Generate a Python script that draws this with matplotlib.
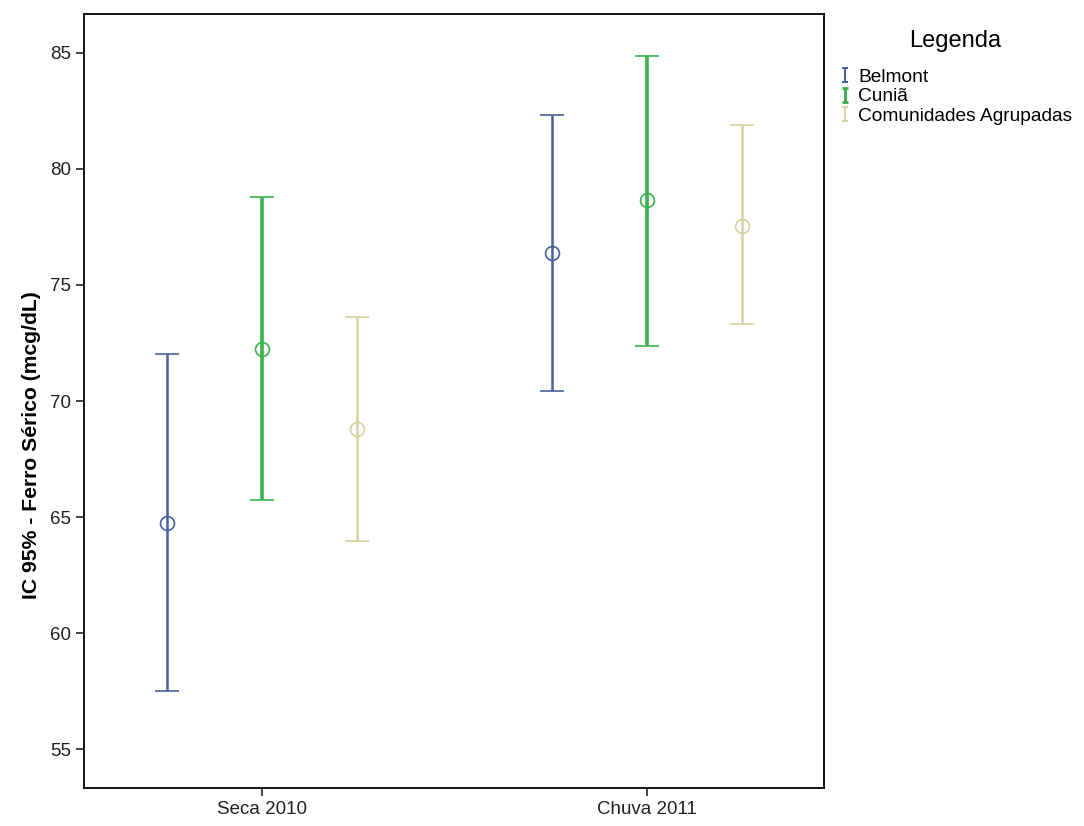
import numpy as np
import matplotlib.pyplot as plt
from matplotlib.path import Path
from matplotlib.lines import Line2D

plt.rcParams['font.family'] = ['Liberation Sans', 'DejaVu Sans']

# dados
periodos = ['Seca 2010', 'Chuva 2011']
grupos = ['Belmont', 'Cuniã', 'Comunidades Agrupadas']
media = [[64.74, 76.38], [72.24, 78.66], [68.79, 77.54]]
ic_sup = [[72.03, 82.33], [78.79, 84.87], [73.62, 81.90]]
ic_inf = [[57.50, 70.43], [65.73, 72.37], [63.97, 73.32]]

cores = ['#4a5f9e', '#3cb24e', '#d6d2a2']
larguras = [1.8, 2.6, 1.8]
desloc = [-0.247, 0.0, 0.247]

fig = plt.figure(figsize=(10.84, 8.26), dpi=100)
ax = fig.add_axes([83.5 / 1084, 38 / 826, 740.5 / 1084, 774 / 826])

x = np.arange(len(periodos))
for i, g in enumerate(grupos):
    m = np.array(media[i])
    err = [m - np.array(ic_inf[i]), np.array(ic_sup[i]) - m]
    ax.errorbar(x + desloc[i], m, yerr=err, fmt='o', mfc='none', mec=cores[i],
                ms=10, mew=1.2, ecolor=cores[i], elinewidth=larguras[i],
                capsize=8.5, capthick=larguras[i], label=g)

ax.set_xlim(-0.464, 1.460)
ax.set_ylim(53.32, 86.68)
ax.set_xticks(x)
ax.set_xticklabels(periodos)
ax.set_yticks([55, 60, 65, 70, 75, 80, 85])
ax.tick_params(direction='out', length=6, width=1.2, labelsize=13.5, colors='#222222', pad=3)
ax.set_ylabel('IC 95% - Ferro Sérico (mcg/dL)', fontsize=15.2, fontweight='bold')
ax.yaxis.set_label_coords(-0.058, 0.443)
for s in ax.spines.values():
    s.set_linewidth(1.3)

# icone "I" da legenda
icone = Path([(-0.5, 1), (0.5, 1), (0, 1), (0, -1), (-0.5, -1), (0.5, -1)],
             [Path.MOVETO, Path.LINETO, Path.MOVETO, Path.LINETO, Path.MOVETO, Path.LINETO])
handles = [Line2D([], [], linestyle='none', marker=icone, ms=10, mew=larguras[i] * 0.8,
                  color=cores[i], mec=cores[i]) for i in range(len(grupos))]

fig.text(955 / 1084, 1 - 41 / 826, 'Legenda', ha='center', va='center', fontsize=17)
fig.legend(handles=handles, labels=grupos, loc='upper left',
           bbox_to_anchor=(823 / 1084, 1 - 51 / 826), frameon=False,
           fontsize=13.8, handlelength=0.5, handletextpad=0.45, labelspacing=0.12)

fig.savefig('out.png', dpi=100)
